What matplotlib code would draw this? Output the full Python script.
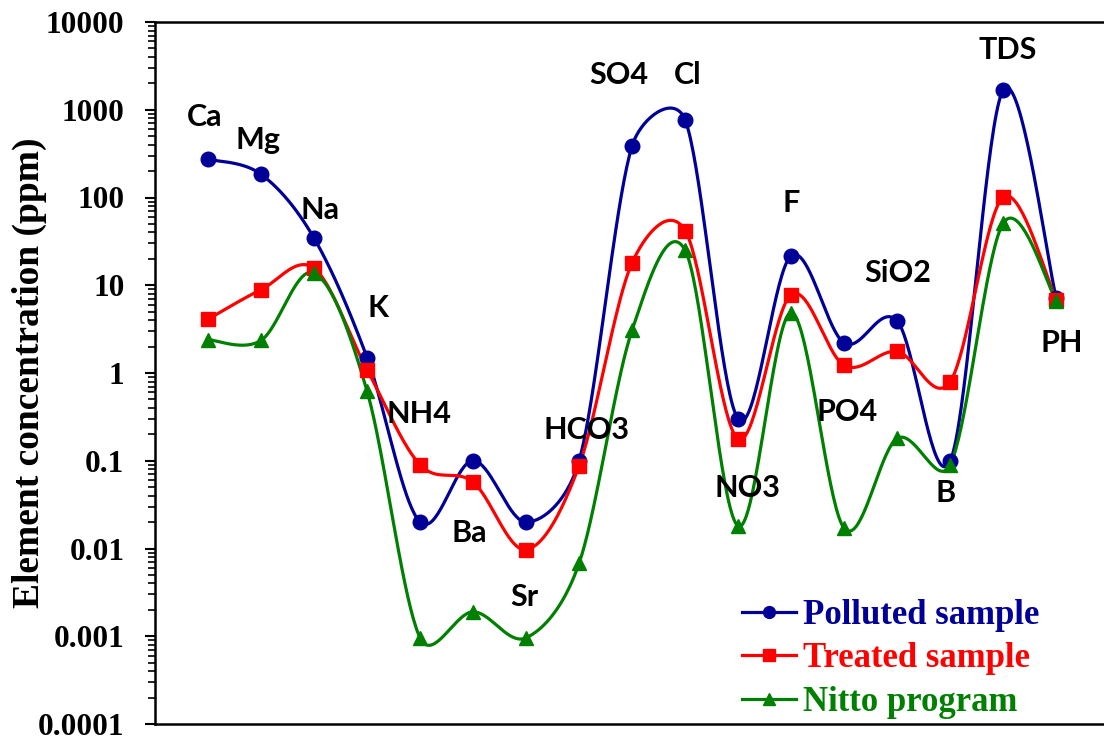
import numpy as np
from matplotlib import pyplot as plt
from matplotlib.ticker import LogLocator, NullFormatter

# categories (x = 1..17)
names = ['Ca', 'Mg', 'Na', 'K', 'NH4', 'Ba', 'Sr', 'HCO3', 'SO4', 'Cl',
         'NO3', 'F', 'PO4', 'SiO2', 'B', 'TDS', 'PH']

polluted = [273, 184, 34.4, 1.5, 0.02, 0.1, 0.02, 0.1, 390, 765,
            0.3, 21.7, 2.2, 3.9, 0.1, 1680, 7.1]
treated = [4.1, 8.9, 15.6, 1.09, 0.09, 0.057, 0.0097, 0.088, 18.1, 42,
            0.177, 7.8, 1.22, 1.76, 0.8, 101, 6.8]
nitto = [2.4, 2.35, 13.8, 0.62, 0.00096, 0.0019, 0.00096, 0.0068, 3.1, 25,
         0.018, 4.85, 0.017, 0.18, 0.09, 51, 6.7]

# element label positions (x shift from category, y value)
lab_dx = [-0.06, -0.06, 0.11, 0.2, -0.02, -0.08, -0.04, 0.13, -0.25, 0.04,
          0.17, 0.0, 0.06, 0.0, -0.08, 0.08, 0.11]
lab_y = [828, 453, 72, 5.5, 0.34, 0.015, 0.0028, 0.225, 2490, 2490,
         0.049, 87, 0.36, 13.8, 0.043, 4800, 2.2]

ytick_vals = [0.0001, 0.001, 0.01, 0.1, 1, 10, 100, 1000, 10000]
ytick_labels = ['0.0001', '0.001', '0.01', '0.1', '1', '10', '100', '1000', '10000']

XMAX = 17.9
W, H = 1104, 741
ax_rect = [155 / W, 17 / H, 1 - 155 / W, 702 / H]
sx_px = ax_rect[2] * W / XMAX   # pixels per category
sy_px = ax_rect[3] * H / 8      # pixels per decade


def smooth(xs, ys, n=40):
    # Excel-like smoothed line, worked out in screen units (x, log y)
    p = np.column_stack([np.asarray(xs) * sx_px, np.log10(ys) * sy_px])
    out = []
    for i in range(len(p) - 1):
        p0 = p[i - 1] if i > 0 else p[i]
        p3 = p[i + 2] if i + 2 < len(p) else p[i + 1]
        p1, p2 = p[i], p[i + 1]
        d12 = np.hypot(*(p2 - p1))
        d02 = np.hypot(*(p2 - p0))
        d13 = np.hypot(*(p3 - p1))
        f0 = 1 / 6 if d02 / 6 < d12 / 2 else d12 / d02 / 2
        f1 = 1 / 6 if d13 / 6 < d12 / 2 else d12 / d13 / 2
        c1 = p1 + (p2 - p0) * f0
        c2 = p2 - (p3 - p1) * f1
        t = np.linspace(0, 1, n)[:, None]
        seg = ((1 - t) ** 3 * p1 + 3 * (1 - t) ** 2 * t * c1
               + 3 * (1 - t) * t ** 2 * c2 + t ** 3 * p2)
        out.append(seg if i == 0 else seg[1:])
    out = np.vstack(out)
    return out[:, 0] / sx_px, 10 ** (out[:, 1] / sy_px)


fig = plt.figure(figsize=(W / 100, H / 100), dpi=100)
ax = fig.add_axes(ax_rect)

x = np.arange(1, len(names) + 1)
series = [
    (polluted, '#000099', 'o', 10.5, 'Polluted sample'),
    (treated, '#ff0000', 's', 10, 'Treated sample'),
    (nitto, '#008000', '^', 10.5, 'Nitto program'),
]
handles = []
for vals, col, mk, ms, lab in series:
    lx, ly = smooth(x, vals)
    ax.plot(lx, ly, color=col, lw=2.3, zorder=2)
    ax.plot(x, vals, ls='none', marker=mk, ms=ms, color=col, zorder=3)
    h, = ax.plot([], [], color=col, lw=2.3, marker=mk, ms=8.5, label=lab)
    handles.append(h)

for i, nm in enumerate(names):
    ax.text(x[i] + lab_dx[i], lab_y[i], nm, ha='center', va='center',
            fontsize=22, fontweight='bold', family='Lato', zorder=4)

ax.set_yscale('log')
ax.set_ylim(0.0001, 10000)
ax.set_xlim(0, XMAX)
ax.set_yticks(ytick_vals)
ax.set_yticklabels(ytick_labels, family='Liberation Serif', fontweight='bold',
                   fontsize=22.5)
ax.yaxis.set_minor_locator(LogLocator(base=10, subs=np.arange(2, 10), numticks=20))
ax.yaxis.set_minor_formatter(NullFormatter())
ax.tick_params(axis='y', which='major', direction='out', length=7, width=1.5, pad=15)
ax.tick_params(axis='y', which='minor', direction='out', length=5, width=1.2)
ax.set_xticks([])
ax.spines['right'].set_visible(False)
for s in ['top', 'bottom', 'left']:
    ax.spines[s].set_linewidth(1.8)

ax.set_ylabel('Element concentration (ppm)', family='Liberation Serif',
              fontweight='bold', fontsize=27)
ax.yaxis.set_label_coords((47 - 155) / (ax_rect[2] * W), 0.5)

leg = fig.legend(handles=handles, loc='upper left',
                 bbox_to_anchor=(742 / W, 1 - 599 / H),
                 frameon=False, borderpad=0, borderaxespad=0,
                 handlelength=1.55, handletextpad=0.2, labelspacing=0.3,
                 prop={'family': 'Liberation Serif', 'weight': 'bold', 'size': 25})
for txt, (_, col, _, _, _) in zip(leg.get_texts(), series):
    txt.set_color(col)

fig.savefig('out.png', dpi=100)
